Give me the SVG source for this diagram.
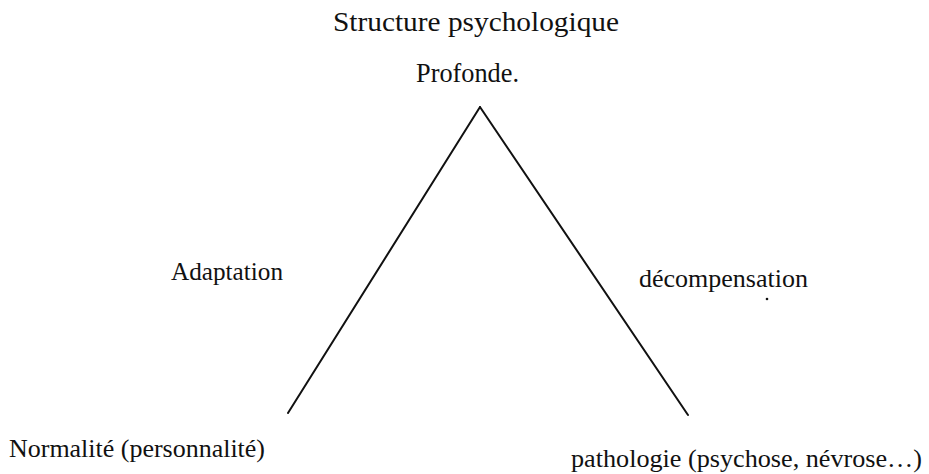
<svg xmlns="http://www.w3.org/2000/svg" width="929" height="474" viewBox="0 0 929 474">
<style>
text{font-family:"Liberation Serif","Times New Roman",serif;fill:#111}
.t{font-size:28px}
.l{font-size:25px}
.c{stroke:#111;stroke-width:2;fill:none;stroke-linecap:round}
</style>
<rect width="929" height="474" fill="#fff"/>
<g id="apex">
<text class="t" x="333" y="31" textLength="286" lengthAdjust="spacingAndGlyphs">Structure psychologique</text>
<text class="t" x="416" y="82" textLength="103" lengthAdjust="spacingAndGlyphs">Profonde.</text>
</g>
<g id="normalite">
<text class="l" x="9" y="457" textLength="256" lengthAdjust="spacingAndGlyphs">Normalité (personnalité)</text>
</g>
<g id="pathologie">
<text class="l" x="571" y="467" textLength="351" lengthAdjust="spacingAndGlyphs">pathologie (psychose, névrose…)</text>
</g>
<g id="connectors">
<line class="c" x1="480" y1="107" x2="288" y2="413"/>
<line class="c" x1="480" y1="107" x2="688" y2="415"/>
<text class="l" x="171" y="280" textLength="112" lengthAdjust="spacingAndGlyphs">Adaptation</text>
<text class="l" x="639" y="287" textLength="169" lengthAdjust="spacingAndGlyphs">décompensation</text>
</g>
<circle cx="767" cy="299" r="1.3" fill="#111"/>
</svg>
